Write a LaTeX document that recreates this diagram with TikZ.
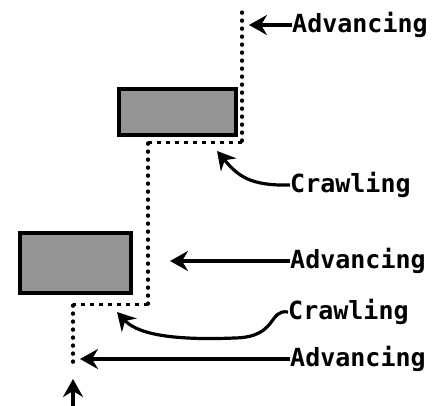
\documentclass[tikz,border=0pt]{standalone}
\usepackage{fontspec}
\newfontfamily\labelfont{DejaVu Sans Mono}
\usetikzlibrary{arrows.meta,patterns}
\begin{document}
\begin{tikzpicture}[x=1pt,y=-1pt,
  lbl/.style={anchor=west,inner sep=0pt,font=\labelfont\bfseries\fontsize{25}{28}\selectfont},
  blockbox/.style={draw=black,line width=4pt,fill=black!42},
  trail/.style={line width=3.2pt,line cap=round,dash pattern=on 1.2pt off 6.8pt},
  trailh/.style={line width=3pt,dash pattern=on 4pt off 5pt},
  pointer/.style={line width=3.2pt,-{Stealth[length=18pt,width=20pt,inset=6pt]}}]
\useasboundingbox (0,0) rectangle (437,406);
% blocks
\node[blockbox,minimum width=117pt,minimum height=46pt,inner sep=0pt,anchor=north west] (box1) at (117,87) {};
\node[blockbox,minimum width=111pt,minimum height=60pt,inner sep=0pt,anchor=north west] (box2) at (18,231) {};
% path corners
\coordinate (p0) at (242,12);
\coordinate (p1) at (242,147);
\coordinate (h1a) at (242,143);
\coordinate (h1b) at (148,143);
\coordinate (p2) at (148,305);
\coordinate (h2b) at (73,305);
\coordinate (p3) at (73,366);
\draw[trail] (p0) -- (p1);
\draw[trailh] (h1a) -- (h1b);
\draw[trail] (h1b) -- (p2);
\draw[trailh] (p2) -- (h2b);
\draw[trail] (h2b) -- (p3);
% labels
\node[lbl] (adv1) at (292,25) {Advancing};
\node[lbl] (crawl1) at (290,185) {Crawling};
\node[lbl] (adv2) at (290,261) {Advancing};
\node[lbl] (crawl2) at (288,312) {Crawling};
\node[lbl] (adv3) at (290,359) {Advancing};
% arrow targets
\coordinate (t1) at (249,25);
\coordinate (t2) at (217,151);
\coordinate (t3) at (170,261);
\coordinate (t4) at (117,312);
\coordinate (t5) at (80,359);
\coordinate (s6) at (73,406);
\coordinate (t6) at (73,379);
% connectors
\draw[pointer] (adv1.west) -- (t1);
\draw[pointer] (crawl1.west) .. controls (250,186) and (238,176) .. (t2);
\draw[pointer] (adv2.west) -- (t3);
\draw[pointer] (crawl2.west) .. controls (268,309) and (278,337) .. (235,338) .. controls (185,340) and (140,337) .. (t4);
\draw[pointer] (adv3.west) -- (t5);
\draw[pointer] (s6) -- (t6);
\end{tikzpicture}
\end{document}
